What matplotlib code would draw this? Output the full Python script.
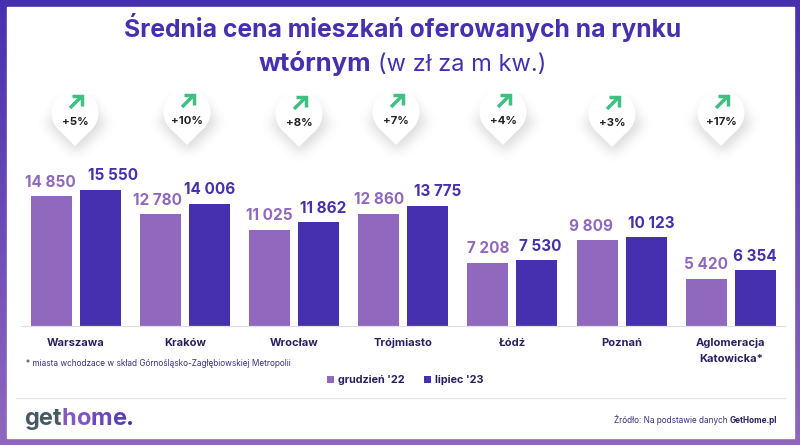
import numpy as np
from matplotlib import pyplot as plt
from matplotlib.colors import LinearSegmentedColormap
from matplotlib.patches import Circle, Polygon, Rectangle

cities = ['Warszawa', 'Kraków', 'Wrocław', 'Trójmiasto', 'Łódź', 'Poznań', 'Aglomeracja\nKatowicka*']
dec22 = [14850, 12780, 11025, 12860, 7208, 9809, 5420]
jul23 = [15550, 14006, 11862, 13775, 7530, 10123, 6354]
changes = ['+5%', '+10%', '+8%', '+7%', '+4%', '+3%', '+17%']
series_names = ["grudzień '22", "lipiec '23"]

# pin placement in pixels, the pins don't sit exactly over the groups
pin_x = [75, 187, 299, 396, 503, 612, 721]
pin_tip = [146, 145, 147, 145, 145, 147, 146]
# value labels are not centred on their bars in the original (pixels)
dec22_nudge = [-0.5, -3, 0, 0, 0, -6, 0]
jul23_nudge = [12.5, 0, 5, 10, 3, 5, 0]

LIGHT = '#9068bd'
DARK = '#4730b0'
NAVY = '#2a2060'
GREEN = '#3fbf80'

plt.rcParams['font.family'] = ['Inter', 'DejaVu Sans']


def fmt(v):
    return f'{v:,}'.replace(',', ' ')


def pin_shadow(size=120, r=23.5, sigma=6.0):
    # blurred pin outline, the tip is at the grid centre column
    yy, xx = np.mgrid[0:size, 0:size] - size / 2
    circle = xx**2 + (yy + 33)**2 <= r**2
    cone = (np.abs(xx) <= -yy * 0.97) & (yy <= 0) & (yy >= -33)
    mask = (circle | cone).astype(float)
    k = np.exp(-np.arange(-18, 19)**2 / (2 * sigma**2))
    k /= k.sum()
    mask = np.apply_along_axis(lambda m: np.convolve(m, k, mode='same'), 0, mask)
    mask = np.apply_along_axis(lambda m: np.convolve(m, k, mode='same'), 1, mask)
    rgba = np.zeros((size, size, 4))
    rgba[..., 3] = mask * 0.15
    return rgba


fig = plt.figure(figsize=(8, 4.45), dpi=100)

# background with gradient frame, in pixel coords
bg = fig.add_axes([0, 0, 1, 1], zorder=0)
bg.axis('off')
cmap = LinearSegmentedColormap.from_list('frame', [DARK, LIGHT])
bg.imshow(np.linspace(0, 1, 445).reshape(-1, 1), cmap=cmap, aspect='auto', extent=(0, 800, 445, 0))
bg.add_patch(Rectangle((7, 7), 787, 431, color='white', zorder=1))
bg.plot([16, 785], [398, 398], color='#e3e3e3', lw=0.9)

# title
bg.text(403, 37, 'Średnia cena mieszkań oferowanych na rynku', ha='center', va='baseline',
        fontsize=17.8, fontweight='bold', color=DARK)
bg.text(371, 71, 'wtórnym', ha='right', va='baseline', fontsize=18.5, fontweight='bold', color=DARK)
bg.text(378, 71, '(w zł za m kw.)', ha='left', va='baseline', fontsize=17, color=DARK)

# pins
shadow = pin_shadow()
for x, tip, label in zip(pin_x, pin_tip, changes):
    r = 23.5
    cy = tip - 33
    bg.imshow(shadow, aspect='auto', interpolation='bilinear', zorder=2,
              extent=(x + 1 - 60, x + 1 + 60, tip + 7 + 60, tip + 7 - 60))
    bg.add_patch(Circle((x, cy), r, color='white', lw=0, zorder=3))
    bg.add_patch(Polygon([(x - r * 0.72, cy + r * 0.69), (x + r * 0.72, cy + r * 0.69), (x, tip)],
                         color='white', lw=0, zorder=3))
    bg.plot([x - 5, x + 6], [tip - 38, tip - 49], color=GREEN, lw=2.5, solid_capstyle='butt', zorder=4)
    bg.plot([x - 3, x + 7, x + 7], [tip - 50, tip - 50, tip - 40], color=GREEN, lw=2.5,
            solid_capstyle='butt', solid_joinstyle='miter', zorder=4)
    bg.text(x, tip - 24, label, ha='center', va='center', fontsize=8.2, fontweight='bold',
            color='#222222', zorder=4)
bg.set_xlim(0, 800)
bg.set_ylim(445, 0)

# bars
ax = fig.add_axes([21 / 800, (445 - 326) / 445, 764.4 / 800, 151 / 445], zorder=1)
ax.patch.set_alpha(0)
idx = np.arange(len(cities))
width = 41 / 109.2
off = 24.5 / 109.2
bars1 = ax.bar(idx - off, dec22, width, color=LIGHT, label=series_names[0])
bars2 = ax.bar(idx + off, jul23, width, color=DARK, label=series_names[1])
ax.set_xlim(-0.5, 6.5)
ax.set_ylim(0, 151 / 0.008746)

for bars, vals, nudges, col in [(bars1, dec22, dec22_nudge, LIGHT), (bars2, jul23, jul23_nudge, DARK)]:
    for b, v, n in zip(bars, vals, nudges):
        ax.annotate(fmt(v), (b.get_x() + b.get_width() / 2, v), xytext=(n, 9.5), textcoords='offset pixels',
                    ha='center', va='baseline', fontsize=11, fontweight='bold', color=col)

ax.set_xticks(idx)
ax.set_xticklabels(cities, fontsize=8, fontweight='bold', color=NAVY, linespacing=1.73)
ax.tick_params(axis='x', length=0, pad=8.5)
ax.set_yticks([])
for s in ['top', 'left', 'right']:
    ax.spines[s].set_visible(False)
ax.spines['bottom'].set_color('#e0e0e0')
ax.spines['bottom'].set_linewidth(0.9)

# footnote, legend
bg.text(26, 364, '* miasta wchodzace w skład Górnośląsko-Zagłębiowskiej Metropolii', ha='left', va='center',
        fontsize=5.95, color='#3d2f7a')
fig.legend(handles=[bars1, bars2], labels=series_names, loc='center', bbox_to_anchor=(405 / 800, 1 - 380 / 445),
           ncol=2, frameon=False, labelcolor=NAVY, prop=dict(weight='bold', size=7.8),
           handlelength=0.65, handleheight=0.65, handletextpad=0.4, columnspacing=1.75)

# logo + source
t = bg.text(24, 425, 'get', ha='left', va='baseline', fontsize=17, fontweight='bold', color='#455a64')
for letter, col in zip('home', ['#8458c0', '#7e57c2', '#6a48bb', '#5a3fb5']):
    t = bg.annotate(letter, xy=(1, 0), xycoords=t, va='bottom', fontsize=17, fontweight='bold', color=col)
bg.annotate('.', xy=(1, 0), xycoords=t, va='bottom', fontsize=17, fontweight='bold', color=DARK)
t = bg.text(614, 420, 'Źródło: Na podstawie danych ', ha='left', va='center', fontsize=5.9, color='#3d2f7a')
bg.annotate('GetHome.pl', xy=(1, 0), xycoords=t, va='bottom', fontsize=5.9, fontweight='bold', color=NAVY)

plt.savefig('out.png', dpi=100)
